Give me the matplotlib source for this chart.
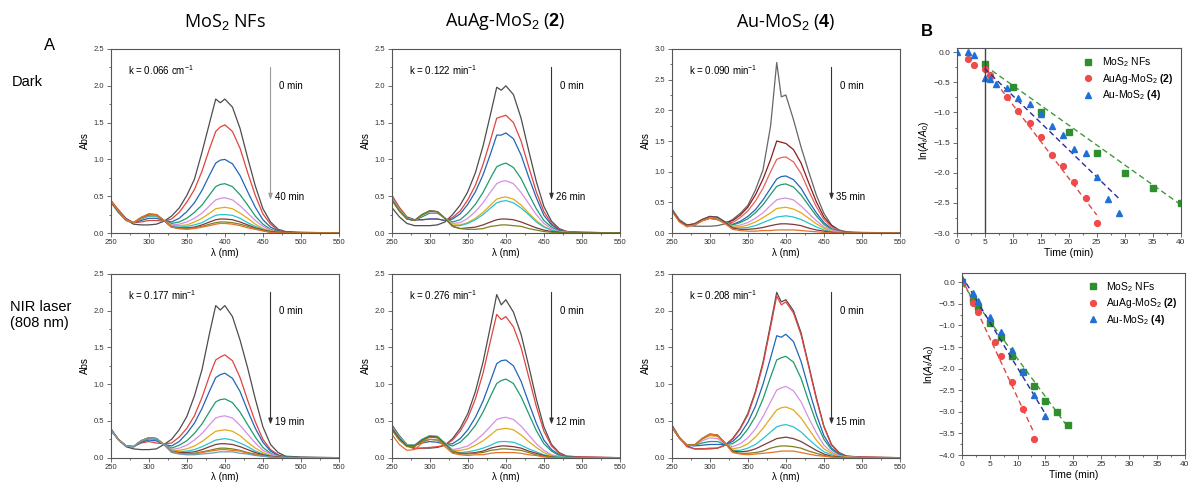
import matplotlib
matplotlib.use("Agg")
import matplotlib.pyplot as plt
from matplotlib.ticker import MultipleLocator

# wavelength grid (nm) shared by all spectra
wl = [250, 260, 270, 280, 290, 300, 310, 320, 330, 340, 350, 360, 370, 380,
      388, 394, 400, 410, 420, 430, 440, 450, 460, 470, 480, 500, 550]

# ---- spectra (Abs) ----
mos2_dark = [
    [0.45, 0.30, 0.18, 0.12, 0.11, 0.11, 0.12, 0.16, 0.23, 0.34, 0.51, 0.73, 1.10, 1.50, 1.82, 1.77, 1.82, 1.71, 1.42, 1.02, 0.64, 0.33, 0.15, 0.05, 0.02, 0.01, 0.0],
    [0.44, 0.32, 0.20, 0.14, 0.15, 0.17, 0.17, 0.16, 0.19, 0.28, 0.42, 0.59, 0.84, 1.15, 1.38, 1.44, 1.47, 1.38, 1.15, 0.82, 0.51, 0.26, 0.12, 0.04, 0.01, 0.0, 0.0],
    [0.43, 0.30, 0.19, 0.14, 0.17, 0.20, 0.20, 0.17, 0.15, 0.20, 0.29, 0.41, 0.58, 0.79, 0.95, 0.99, 1.00, 0.94, 0.78, 0.56, 0.35, 0.18, 0.08, 0.03, 0.01, 0.0, 0.0],
    [0.43, 0.29, 0.18, 0.14, 0.19, 0.23, 0.23, 0.17, 0.13, 0.15, 0.20, 0.28, 0.38, 0.52, 0.63, 0.66, 0.67, 0.63, 0.52, 0.38, 0.23, 0.12, 0.05, 0.02, 0.01, 0.0, 0.0],
    [0.43, 0.29, 0.18, 0.14, 0.20, 0.24, 0.24, 0.17, 0.11, 0.12, 0.15, 0.20, 0.27, 0.37, 0.45, 0.47, 0.48, 0.45, 0.37, 0.27, 0.17, 0.09, 0.04, 0.01, 0.0, 0.0, 0.0],
    [0.42, 0.28, 0.17, 0.14, 0.20, 0.25, 0.25, 0.17, 0.10, 0.10, 0.11, 0.15, 0.20, 0.27, 0.33, 0.34, 0.35, 0.33, 0.27, 0.20, 0.12, 0.06, 0.03, 0.01, 0.0, 0.0, 0.0],
    [0.42, 0.28, 0.17, 0.14, 0.21, 0.25, 0.25, 0.17, 0.09, 0.08, 0.09, 0.11, 0.14, 0.20, 0.24, 0.25, 0.25, 0.24, 0.20, 0.14, 0.09, 0.05, 0.02, 0.01, 0.0, 0.0, 0.0],
    [0.43, 0.29, 0.18, 0.14, 0.21, 0.25, 0.25, 0.17, 0.08, 0.07, 0.07, 0.08, 0.11, 0.15, 0.18, 0.19, 0.19, 0.18, 0.15, 0.11, 0.07, 0.04, 0.02, 0.01, 0.0, 0.0, 0.0],
    [0.44, 0.30, 0.18, 0.14, 0.21, 0.26, 0.25, 0.17, 0.08, 0.06, 0.06, 0.07, 0.09, 0.12, 0.14, 0.15, 0.15, 0.14, 0.12, 0.09, 0.06, 0.03, 0.01, 0.0, 0.0, 0.0, 0.0],
    [0.44, 0.30, 0.18, 0.14, 0.21, 0.26, 0.25, 0.17, 0.08, 0.06, 0.05, 0.06, 0.08, 0.10, 0.12, 0.13, 0.13, 0.12, 0.10, 0.07, 0.05, 0.03, 0.01, 0.0, 0.0, 0.0, 0.0],
]
auag_dark = [
    [0.35, 0.22, 0.13, 0.10, 0.10, 0.10, 0.11, 0.15, 0.25, 0.38, 0.56, 0.82, 1.18, 1.62, 1.98, 1.94, 2.00, 1.88, 1.56, 1.12, 0.70, 0.36, 0.16, 0.06, 0.02, 0.01, 0.0],
    [0.52, 0.35, 0.22, 0.18, 0.18, 0.19, 0.19, 0.17, 0.21, 0.30, 0.45, 0.65, 0.93, 1.27, 1.56, 1.58, 1.60, 1.50, 1.25, 0.90, 0.56, 0.29, 0.13, 0.05, 0.02, 0.01, 0.0],
    [0.48, 0.33, 0.21, 0.18, 0.18, 0.19, 0.19, 0.17, 0.19, 0.26, 0.39, 0.56, 0.79, 1.08, 1.33, 1.33, 1.36, 1.28, 1.06, 0.76, 0.48, 0.24, 0.11, 0.04, 0.01, 0.0, 0.0],
    [0.47, 0.32, 0.20, 0.17, 0.22, 0.27, 0.27, 0.20, 0.15, 0.18, 0.27, 0.39, 0.55, 0.75, 0.90, 0.93, 0.95, 0.89, 0.74, 0.53, 0.33, 0.17, 0.08, 0.03, 0.01, 0.0, 0.0],
    [0.47, 0.32, 0.20, 0.17, 0.24, 0.29, 0.28, 0.20, 0.13, 0.14, 0.20, 0.29, 0.41, 0.56, 0.67, 0.70, 0.71, 0.67, 0.55, 0.40, 0.25, 0.13, 0.06, 0.02, 0.01, 0.0, 0.0],
    [0.47, 0.32, 0.20, 0.17, 0.25, 0.30, 0.29, 0.20, 0.11, 0.11, 0.14, 0.20, 0.28, 0.38, 0.46, 0.48, 0.49, 0.46, 0.38, 0.27, 0.17, 0.09, 0.04, 0.01, 0.0, 0.0, 0.0],
    [0.46, 0.31, 0.20, 0.17, 0.25, 0.30, 0.29, 0.20, 0.10, 0.10, 0.13, 0.18, 0.25, 0.34, 0.41, 0.43, 0.44, 0.41, 0.34, 0.25, 0.15, 0.08, 0.04, 0.01, 0.0, 0.0, 0.0],
    [0.45, 0.30, 0.19, 0.17, 0.25, 0.30, 0.29, 0.20, 0.09, 0.06, 0.07, 0.08, 0.11, 0.15, 0.18, 0.19, 0.19, 0.18, 0.15, 0.11, 0.07, 0.04, 0.02, 0.01, 0.0, 0.0, 0.0],
    [0.45, 0.30, 0.19, 0.17, 0.25, 0.30, 0.29, 0.20, 0.09, 0.06, 0.05, 0.05, 0.06, 0.09, 0.10, 0.11, 0.11, 0.10, 0.09, 0.06, 0.04, 0.02, 0.01, 0.0, 0.0, 0.0, 0.0],
]
au_dark = [
    [0.40, 0.22, 0.13, 0.11, 0.11, 0.11, 0.12, 0.15, 0.22, 0.32, 0.45, 0.70, 1.03, 1.75, 2.78, 2.22, 2.25, 1.85, 1.40, 1.00, 0.62, 0.32, 0.13, 0.05, 0.02, 0.01, 0.0],
    [0.38, 0.20, 0.12, 0.13, 0.20, 0.24, 0.22, 0.17, 0.20, 0.29, 0.42, 0.62, 0.88, 1.20, 1.50, 1.48, 1.46, 1.36, 1.14, 0.82, 0.51, 0.26, 0.12, 0.04, 0.01, 0.0, 0.0],
    [0.38, 0.20, 0.12, 0.13, 0.20, 0.24, 0.22, 0.17, 0.17, 0.25, 0.36, 0.52, 0.73, 1.00, 1.20, 1.23, 1.24, 1.16, 0.97, 0.69, 0.43, 0.22, 0.10, 0.04, 0.01, 0.0, 0.0],
    [0.38, 0.20, 0.13, 0.14, 0.21, 0.25, 0.24, 0.18, 0.14, 0.19, 0.27, 0.38, 0.54, 0.73, 0.88, 0.92, 0.93, 0.87, 0.73, 0.52, 0.33, 0.17, 0.07, 0.03, 0.01, 0.0, 0.0],
    [0.38, 0.20, 0.13, 0.14, 0.21, 0.25, 0.24, 0.18, 0.13, 0.17, 0.23, 0.33, 0.46, 0.63, 0.76, 0.79, 0.80, 0.75, 0.62, 0.45, 0.28, 0.14, 0.06, 0.02, 0.01, 0.0, 0.0],
    [0.38, 0.20, 0.13, 0.14, 0.22, 0.26, 0.25, 0.18, 0.11, 0.13, 0.17, 0.24, 0.33, 0.45, 0.54, 0.56, 0.57, 0.54, 0.44, 0.32, 0.20, 0.10, 0.05, 0.02, 0.0, 0.0, 0.0],
    [0.38, 0.20, 0.13, 0.14, 0.22, 0.26, 0.25, 0.18, 0.10, 0.10, 0.13, 0.18, 0.25, 0.33, 0.40, 0.41, 0.42, 0.39, 0.33, 0.24, 0.15, 0.08, 0.03, 0.01, 0.0, 0.0, 0.0],
    [0.38, 0.20, 0.13, 0.15, 0.22, 0.27, 0.26, 0.18, 0.09, 0.08, 0.09, 0.12, 0.17, 0.22, 0.26, 0.27, 0.28, 0.26, 0.22, 0.16, 0.10, 0.05, 0.02, 0.01, 0.0, 0.0, 0.0],
    [0.38, 0.20, 0.13, 0.15, 0.22, 0.27, 0.26, 0.18, 0.08, 0.06, 0.06, 0.07, 0.09, 0.12, 0.14, 0.15, 0.15, 0.14, 0.12, 0.08, 0.05, 0.03, 0.01, 0.0, 0.0, 0.0, 0.0],
    [0.36, 0.18, 0.10, 0.13, 0.20, 0.24, 0.22, 0.15, 0.06, 0.04, 0.03, 0.03, 0.04, 0.04, 0.05, 0.05, 0.05, 0.05, 0.04, 0.03, 0.02, 0.01, 0.0, 0.0, 0.0, 0.0, 0.0],
]
mos2_nir = [
    [0.40, 0.25, 0.15, 0.12, 0.11, 0.11, 0.12, 0.18, 0.25, 0.38, 0.56, 0.84, 1.20, 1.70, 2.07, 2.01, 2.07, 1.92, 1.60, 1.22, 0.80, 0.42, 0.18, 0.07, 0.02, 0.01, 0.0],
    [0.38, 0.25, 0.16, 0.15, 0.20, 0.22, 0.20, 0.19, 0.20, 0.28, 0.40, 0.57, 0.82, 1.12, 1.33, 1.37, 1.40, 1.32, 1.09, 0.78, 0.49, 0.25, 0.11, 0.04, 0.01, 0.0, 0.0],
    [0.38, 0.25, 0.16, 0.15, 0.21, 0.24, 0.23, 0.18, 0.16, 0.22, 0.33, 0.47, 0.67, 0.91, 1.09, 1.13, 1.15, 1.08, 0.90, 0.64, 0.40, 0.21, 0.09, 0.03, 0.01, 0.0, 0.0],
    [0.38, 0.25, 0.16, 0.15, 0.22, 0.26, 0.25, 0.18, 0.13, 0.17, 0.23, 0.33, 0.46, 0.63, 0.76, 0.79, 0.80, 0.75, 0.62, 0.45, 0.28, 0.14, 0.06, 0.02, 0.01, 0.0, 0.0],
    [0.38, 0.25, 0.16, 0.15, 0.23, 0.27, 0.26, 0.18, 0.11, 0.13, 0.17, 0.24, 0.33, 0.45, 0.54, 0.56, 0.57, 0.54, 0.44, 0.32, 0.20, 0.10, 0.05, 0.02, 0.0, 0.0, 0.0],
    [0.38, 0.25, 0.16, 0.15, 0.23, 0.27, 0.26, 0.18, 0.10, 0.10, 0.12, 0.16, 0.22, 0.30, 0.36, 0.37, 0.38, 0.36, 0.30, 0.21, 0.13, 0.07, 0.03, 0.01, 0.0, 0.0, 0.0],
    [0.38, 0.25, 0.16, 0.15, 0.23, 0.27, 0.26, 0.18, 0.09, 0.08, 0.09, 0.11, 0.15, 0.20, 0.24, 0.25, 0.26, 0.24, 0.20, 0.15, 0.09, 0.05, 0.02, 0.01, 0.0, 0.0, 0.0],
    [0.38, 0.25, 0.16, 0.15, 0.23, 0.27, 0.26, 0.18, 0.08, 0.07, 0.07, 0.08, 0.11, 0.15, 0.18, 0.19, 0.19, 0.18, 0.15, 0.11, 0.07, 0.04, 0.02, 0.01, 0.0, 0.0, 0.0],
    [0.38, 0.25, 0.16, 0.15, 0.23, 0.27, 0.26, 0.18, 0.08, 0.06, 0.05, 0.06, 0.08, 0.10, 0.12, 0.13, 0.13, 0.12, 0.10, 0.07, 0.05, 0.03, 0.01, 0.0, 0.0, 0.0, 0.0],
    [0.38, 0.25, 0.16, 0.15, 0.23, 0.27, 0.26, 0.18, 0.08, 0.06, 0.05, 0.05, 0.07, 0.09, 0.10, 0.11, 0.11, 0.10, 0.09, 0.06, 0.04, 0.02, 0.01, 0.0, 0.0, 0.0, 0.0],
    [0.38, 0.25, 0.16, 0.15, 0.23, 0.27, 0.26, 0.18, 0.07, 0.05, 0.04, 0.04, 0.05, 0.06, 0.07, 0.08, 0.08, 0.08, 0.06, 0.05, 0.03, 0.02, 0.01, 0.0, 0.0, 0.0, 0.0],
]
auag_nir = [
    [0.45, 0.30, 0.18, 0.13, 0.13, 0.13, 0.14, 0.17, 0.26, 0.40, 0.60, 0.90, 1.30, 1.80, 2.22, 2.08, 2.15, 1.98, 1.68, 1.25, 0.80, 0.42, 0.18, 0.07, 0.02, 0.01, 0.0],
    [0.45, 0.28, 0.16, 0.12, 0.13, 0.14, 0.15, 0.17, 0.24, 0.36, 0.54, 0.80, 1.15, 1.60, 1.95, 1.88, 1.92, 1.78, 1.50, 1.10, 0.70, 0.36, 0.16, 0.06, 0.02, 0.01, 0.0],
    [0.42, 0.28, 0.17, 0.17, 0.20, 0.22, 0.21, 0.18, 0.19, 0.26, 0.38, 0.55, 0.77, 1.05, 1.28, 1.32, 1.33, 1.25, 1.04, 0.75, 0.47, 0.24, 0.11, 0.04, 0.01, 0.0, 0.0],
    [0.42, 0.28, 0.17, 0.17, 0.22, 0.25, 0.24, 0.19, 0.16, 0.21, 0.31, 0.44, 0.62, 0.84, 1.01, 1.05, 1.07, 1.01, 0.83, 0.60, 0.37, 0.19, 0.09, 0.03, 0.01, 0.0, 0.0],
    [0.42, 0.28, 0.17, 0.17, 0.25, 0.29, 0.28, 0.20, 0.11, 0.13, 0.16, 0.23, 0.32, 0.43, 0.52, 0.54, 0.55, 0.52, 0.43, 0.31, 0.19, 0.10, 0.04, 0.02, 0.0, 0.0, 0.0],
    [0.42, 0.28, 0.17, 0.17, 0.25, 0.30, 0.29, 0.20, 0.10, 0.10, 0.12, 0.17, 0.23, 0.31, 0.38, 0.39, 0.40, 0.38, 0.31, 0.22, 0.14, 0.07, 0.03, 0.01, 0.0, 0.0, 0.0],
    [0.42, 0.28, 0.17, 0.17, 0.25, 0.30, 0.29, 0.20, 0.09, 0.07, 0.08, 0.10, 0.13, 0.17, 0.21, 0.22, 0.22, 0.21, 0.17, 0.12, 0.08, 0.04, 0.02, 0.01, 0.0, 0.0, 0.0],
    [0.40, 0.26, 0.16, 0.16, 0.24, 0.29, 0.28, 0.19, 0.08, 0.06, 0.06, 0.07, 0.09, 0.13, 0.15, 0.16, 0.16, 0.15, 0.13, 0.09, 0.06, 0.03, 0.01, 0.0, 0.0, 0.0, 0.0],
    [0.38, 0.24, 0.15, 0.15, 0.23, 0.28, 0.27, 0.18, 0.08, 0.05, 0.05, 0.06, 0.07, 0.10, 0.11, 0.12, 0.12, 0.11, 0.10, 0.07, 0.04, 0.02, 0.01, 0.0, 0.0, 0.0, 0.0],
    [0.32, 0.18, 0.10, 0.11, 0.20, 0.25, 0.24, 0.15, 0.06, 0.04, 0.03, 0.04, 0.04, 0.06, 0.07, 0.07, 0.07, 0.07, 0.06, 0.04, 0.03, 0.01, 0.0, 0.0, 0.0, 0.0, 0.0],
]
au_nir = [
    [0.45, 0.28, 0.16, 0.12, 0.12, 0.12, 0.13, 0.17, 0.26, 0.40, 0.60, 0.90, 1.30, 1.82, 2.25, 2.12, 2.15, 2.00, 1.70, 1.26, 0.82, 0.43, 0.18, 0.07, 0.02, 0.01, 0.0],
    [0.44, 0.27, 0.15, 0.12, 0.12, 0.13, 0.13, 0.17, 0.25, 0.39, 0.58, 0.88, 1.27, 1.78, 2.20, 2.08, 2.12, 1.97, 1.67, 1.24, 0.80, 0.42, 0.17, 0.06, 0.02, 0.01, 0.0],
    [0.42, 0.27, 0.17, 0.16, 0.17, 0.18, 0.18, 0.18, 0.22, 0.32, 0.48, 0.70, 1.00, 1.36, 1.66, 1.64, 1.68, 1.58, 1.31, 0.94, 0.59, 0.30, 0.13, 0.05, 0.02, 0.0, 0.0],
    [0.42, 0.27, 0.17, 0.17, 0.20, 0.22, 0.22, 0.18, 0.19, 0.26, 0.39, 0.56, 0.80, 1.10, 1.33, 1.36, 1.38, 1.30, 1.08, 0.77, 0.48, 0.25, 0.11, 0.04, 0.01, 0.0, 0.0],
    [0.42, 0.27, 0.17, 0.17, 0.23, 0.27, 0.26, 0.19, 0.15, 0.19, 0.27, 0.39, 0.56, 0.76, 0.92, 0.95, 0.97, 0.91, 0.76, 0.54, 0.34, 0.17, 0.08, 0.03, 0.01, 0.0, 0.0],
    [0.42, 0.27, 0.17, 0.17, 0.25, 0.30, 0.29, 0.20, 0.12, 0.14, 0.19, 0.28, 0.40, 0.54, 0.65, 0.68, 0.69, 0.65, 0.54, 0.39, 0.24, 0.12, 0.06, 0.02, 0.01, 0.0, 0.0],
    [0.42, 0.27, 0.17, 0.17, 0.26, 0.31, 0.30, 0.20, 0.10, 0.10, 0.13, 0.18, 0.26, 0.35, 0.42, 0.44, 0.45, 0.42, 0.35, 0.25, 0.16, 0.08, 0.04, 0.01, 0.0, 0.0, 0.0],
    [0.42, 0.27, 0.17, 0.17, 0.26, 0.32, 0.31, 0.20, 0.09, 0.08, 0.09, 0.12, 0.17, 0.22, 0.26, 0.27, 0.28, 0.26, 0.22, 0.16, 0.10, 0.05, 0.02, 0.01, 0.0, 0.0, 0.0],
    [0.42, 0.27, 0.17, 0.17, 0.26, 0.32, 0.31, 0.20, 0.08, 0.06, 0.06, 0.07, 0.09, 0.13, 0.15, 0.16, 0.16, 0.15, 0.13, 0.09, 0.06, 0.03, 0.01, 0.0, 0.0, 0.0, 0.0],
    [0.42, 0.27, 0.17, 0.17, 0.26, 0.32, 0.31, 0.20, 0.07, 0.05, 0.04, 0.05, 0.06, 0.07, 0.08, 0.09, 0.09, 0.09, 0.07, 0.05, 0.03, 0.02, 0.01, 0.0, 0.0, 0.0, 0.0],
]

colors_std = ["#4d4d4d", "#e0443e", "#2166b8", "#1f9a6b", "#d68fe6",
              "#e0aa1a", "#28c2d0", "#7d3a3a", "#7f7f20", "#e8702a", "#6a9fb5"]
colors_au = ["#666666", "#8b1c1c", "#e8605a", "#2166b8", "#1f9a6b",
             "#d68fe6", "#e0aa1a", "#28c2d0", "#7d3a3a", "#e8702a"]

k_labels = ["k = 0.066 cm$^{-1}$", "k = 0.122 min$^{-1}$", "k = 0.090 min$^{-1}$",
            "k = 0.177 min$^{-1}$", "k = 0.276 min$^{-1}$", "k = 0.208 min$^{-1}$"]
end_labels = ["40 min", "26 min", "35 min", "19 min", "12 min", "15 min"]
col_titles = ["MoS$_2$ NFs", r"AuAg-MoS$_2$ ($\mathbf{2}$)", r"Au-MoS$_2$ ($\mathbf{4}$)"]

# ---- kinetics, panel B ----
t_mos2_d = [5, 10, 15, 20, 25, 30, 35, 40]
y_mos2_d = [-0.20, -0.58, -1.00, -1.33, -1.67, -2.00, -2.26, -2.50]
t_auag_d = [2, 3, 5, 6, 9, 11, 13, 15, 17, 19, 21, 23, 25]
y_auag_d = [-0.12, -0.22, -0.28, -0.38, -0.75, -0.97, -1.18, -1.40, -1.71, -1.89, -2.16, -2.42, -2.84]
t_au_d = [0, 2, 3, 5, 6, 7, 9, 11, 13, 15, 17, 19, 21, 23, 25, 27, 29]
y_au_d = [0.0, 0.0, -0.05, -0.42, -0.45, -0.53, -0.60, -0.76, -0.86, -1.03, -1.22, -1.37, -1.60, -1.67, -2.07, -2.43, -2.66]
fit_mos2_d = ([5, 40], [-0.22, -2.53])
fit_auag_d = ([5, 25], [-0.26, -2.70])
fit_au_d = ([5, 29], [-0.27, -2.43])

t_mos2_n = [0, 2, 3, 5, 7, 9, 11, 13, 15, 17, 19]
y_mos2_n = [0.0, -0.40, -0.57, -0.95, -1.28, -1.70, -2.07, -2.40, -2.75, -3.00, -3.30]
t_auag_n = [0, 2, 3, 6, 7, 9, 11, 13]
y_auag_n = [0.0, -0.48, -0.70, -1.38, -1.70, -2.30, -2.94, -3.62]
t_au_n = [0, 2, 3, 5, 7, 9, 11, 13, 15]
y_au_n = [0.08, -0.25, -0.44, -0.80, -1.15, -1.57, -2.05, -2.60, -3.10]
fit_mos2_n = ([0, 19], [-0.02, -3.35])
fit_auag_n = ([0, 13], [0.10, -3.50])
fit_au_n = ([0, 15], [0.15, -3.05])

plt.rcParams["font.family"] = ["Liberation Sans", "DejaVu Sans"]
plt.rcParams["mathtext.fontset"] = "custom"
plt.rcParams["mathtext.rm"] = "Liberation Sans"
plt.rcParams["mathtext.it"] = "Liberation Sans:italic"
plt.rcParams["mathtext.bf"] = "Liberation Sans:bold"

W, H = 1188.0, 491.0
fig = plt.figure(figsize=(W / 100, H / 100), dpi=100)


def px_axes(x0, x1, y0, y1):
    return fig.add_axes([x0 / W, 1 - y1 / H, (x1 - x0) / W, (y1 - y0) / H])


def style(ax, xmaj, xmin, ymaj, ymin, lsize=5.5):
    for s in ax.spines.values():
        s.set_color("#555555")
        s.set_linewidth(0.8)
    ax.xaxis.set_major_locator(MultipleLocator(xmaj))
    ax.xaxis.set_minor_locator(MultipleLocator(xmin))
    ax.yaxis.set_major_locator(MultipleLocator(ymaj))
    ax.yaxis.set_minor_locator(MultipleLocator(ymin))
    ax.tick_params(which="both", direction="out", width=0.6, color="#555555",
                   labelsize=lsize, labelcolor="#333333", pad=1.5)
    ax.tick_params(which="major", length=3)
    ax.tick_params(which="minor", length=1.5)


spectra = [mos2_dark, auag_dark, au_dark, mos2_nir, auag_nir, au_nir]
col_x = [110.7, 391.7, 671.7]
row_y = [(49, 233), (274, 457.7)]

for i, spec in enumerate(spectra):
    r, c = divmod(i, 3)
    ax = px_axes(col_x[c], col_x[c] + 228.3, row_y[r][0], row_y[r][1])
    cols = colors_au if i == 2 else colors_std
    for j, curve in enumerate(spec):
        ax.plot(wl, curve, color=cols[j % len(cols)], lw=0.9)
    ax.set_xlim(250, 550)
    ymax = 3.0 if i == 2 else 2.5
    ax.set_ylim(0, ymax)
    style(ax, 50, 25, 0.5, 0.25)
    ax.set_ylabel("Abs", fontsize=7, labelpad=3)
    ax.set_xlabel("λ (nm)", fontsize=7, labelpad=1)
    ax.text(0.076, 0.885, k_labels[i], transform=ax.transAxes, fontsize=7,
            va="center", ha="left")
    acol = "#9a9a9a" if i == 0 else "#333333"
    ax.annotate("", xy=(0.70, 0.165), xytext=(0.70, 0.915),
                xycoords="axes fraction",
                arrowprops=dict(arrowstyle="-|>,head_width=0.12,head_length=0.35",
                                color=acol, lw=0.8))
    ax.text(0.735, 0.80, "0 min", transform=ax.transAxes, fontsize=7, va="center")
    ax.text(0.72, 0.195, end_labels[i], transform=ax.transAxes, fontsize=7,
            va="center")
    if r == 0:
        fig.text((col_x[c] + 114) / W, 1 - 22 / H, col_titles[c], fontsize=13,
                 ha="center", va="center", family="Open Sans")

# ---- panel B ----
kin = [
    ((956.7, 1180.7, 48, 233), (-3.0, 0.07), 3.0,
     [(t_mos2_d, y_mos2_d, fit_mos2_d), (t_auag_d, y_auag_d, fit_auag_d), (t_au_d, y_au_d, fit_au_d)]),
    ((961.7, 1185.0, 272.7, 455), (-4.0, 0.22), 4.0,
     [(t_mos2_n, y_mos2_n, fit_mos2_n), (t_auag_n, y_auag_n, fit_auag_n), (t_au_n, y_au_n, fit_au_n)]),
]
mk = ["s", "o", "^"]
mcol = ["#2f8f2f", "#f04a4a", "#1e6fd6"]
fcol = ["#3f9a3f", "#e04848", "#2a2aa0"]
names = ["MoS$_2$ NFs", r"AuAg-MoS$_2$ $\mathbf{(2)}$", r"Au-MoS$_2$ $\mathbf{(4)}$"]

for bi, (box, ylim, _, series) in enumerate(kin):
    ax = px_axes(*box)
    for j, (t, y, fit) in enumerate(series):
        ax.plot(fit[0], fit[1], ls=(0, (4, 2.5)), color=fcol[j], lw=1.0)
        ax.plot(t, y, ls="none", marker=mk[j], ms=4.2, color=mcol[j], label=names[j])
    if bi == 0:
        ax.axvline(5, color="#444444", lw=1.0)
    ax.set_xlim(0, 40)
    ax.set_ylim(*ylim)
    style(ax, 5, 2.5, 0.5, 0.25, lsize=6)
    ax.set_xlabel("Time (min)", fontsize=7.5, labelpad=1)
    ax.set_ylabel("ln($A_t$/$A_0$)", fontsize=7.5, labelpad=2)
    ax.legend(loc="upper right", frameon=False, fontsize=7.5, handletextpad=0.3,
              borderaxespad=0.3, labelspacing=0.25)

fig.text(50 / W, 1 - 45 / H, "A", fontsize=12, ha="center", va="center")
fig.text(927 / W, 1 - 32 / H, "B", fontsize=12, fontweight="bold",
         ha="center", va="center")
fig.text(12 / W, 1 - 82 / H, "Dark", fontsize=10.5, ha="left", va="center")
fig.text(10 / W, 1 - 315 / H, "NIR laser\n(808 nm)", fontsize=10.5,
         ha="left", va="center", linespacing=1.2)

fig.savefig("out.png", dpi=100)
